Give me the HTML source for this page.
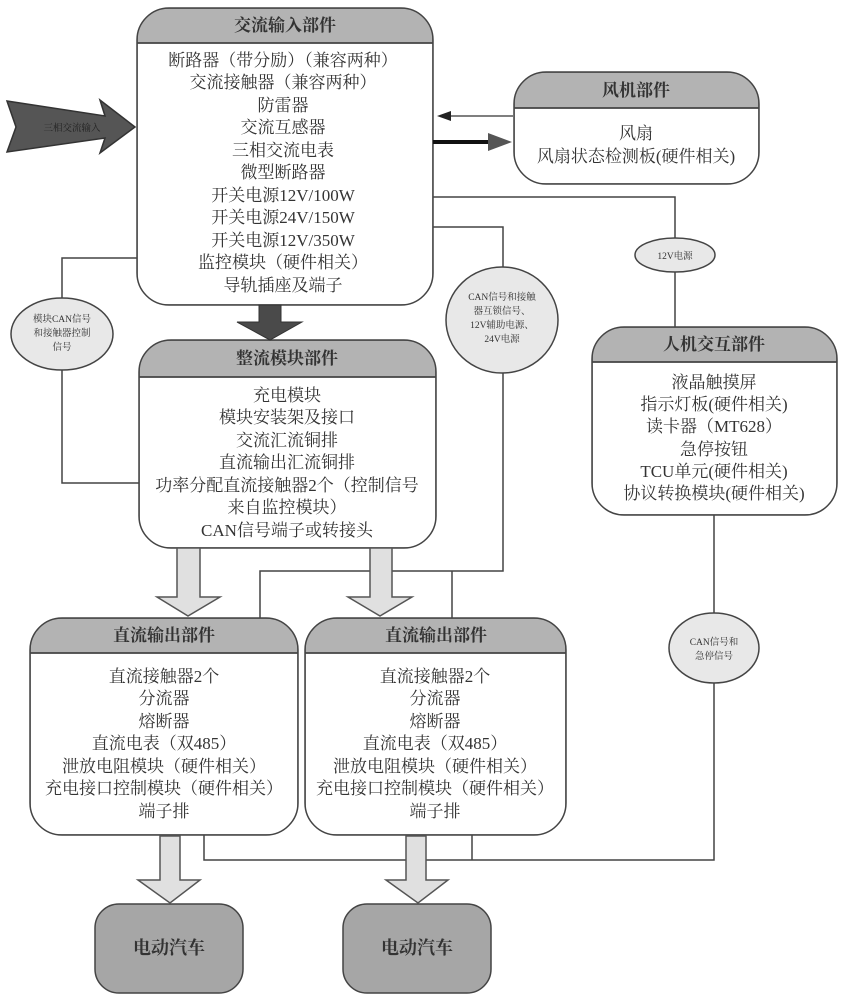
<!DOCTYPE html>
<html><head><meta charset="utf-8"><style>
html,body{margin:0;padding:0;background:#fff;}
svg{display:block;}
text{font-family:"Liberation Serif","Noto Serif CJK SC","Noto Sans CJK SC",serif;fill:#333;}
.h{font-family:"Liberation Sans","Noto Sans CJK SC",sans-serif;font-weight:bold;font-size:17px;fill:#222;}
.t{font-size:17px;}
.s{font-size:9.5px;fill:#555;}
</style></head><body>
<svg width="844" height="1000" viewBox="0 0 844 1000" xmlns="http://www.w3.org/2000/svg">
<defs>
<clipPath id="cAC"><rect x="137" y="8" width="296" height="297" rx="32"/></clipPath>
<clipPath id="cFan"><rect x="514" y="72" width="245" height="112" rx="32"/></clipPath>
<clipPath id="cRec"><rect x="139" y="340" width="297" height="208" rx="32"/></clipPath>
<clipPath id="cHMI"><rect x="592" y="327" width="245" height="188" rx="32"/></clipPath>
<clipPath id="cD1"><rect x="30" y="618" width="268" height="217" rx="32"/></clipPath>
<clipPath id="cD2"><rect x="305" y="618" width="261" height="217" rx="32"/></clipPath>
</defs>
<g fill="none" stroke="#444" stroke-width="1.5">
<polyline points="137,258 62,258 62,483 139,483"/>
<polyline points="433,197 675,197 675,327"/>
<polyline points="433,227 503,227 503,571 260,571 260,618"/>
<line x1="452" y1="571" x2="452" y2="618"/>
<polyline points="714,515 714,860 204,860 204,835"/>
<line x1="472" y1="860" x2="472" y2="835"/>
</g>
<g stroke="#444" stroke-width="1.5">
<g clip-path="url(#cAC)"><rect x="137" y="8" width="296" height="297" fill="#fff"/><rect x="137" y="8" width="296" height="35" fill="#b3b3b3"/></g>
<rect x="137" y="8" width="296" height="297" rx="32" fill="none"/><line x1="137" y1="43" x2="433" y2="43"/>
<g clip-path="url(#cFan)"><rect x="514" y="72" width="245" height="112" fill="#fff"/><rect x="514" y="72" width="245" height="36" fill="#b3b3b3"/></g>
<rect x="514" y="72" width="245" height="112" rx="32" fill="none"/><line x1="514" y1="108" x2="759" y2="108"/>
<g clip-path="url(#cRec)"><rect x="139" y="340" width="297" height="208" fill="#fff"/><rect x="139" y="340" width="297" height="37" fill="#b3b3b3"/></g>
<rect x="139" y="340" width="297" height="208" rx="32" fill="none"/><line x1="139" y1="377" x2="436" y2="377"/>
<g clip-path="url(#cHMI)"><rect x="592" y="327" width="245" height="188" fill="#fff"/><rect x="592" y="327" width="245" height="35" fill="#b3b3b3"/></g>
<rect x="592" y="327" width="245" height="188" rx="32" fill="none"/><line x1="592" y1="362" x2="837" y2="362"/>
<g clip-path="url(#cD1)"><rect x="30" y="618" width="268" height="217" fill="#fff"/><rect x="30" y="618" width="268" height="35" fill="#b3b3b3"/></g>
<rect x="30" y="618" width="268" height="217" rx="32" fill="none"/><line x1="30" y1="653" x2="298" y2="653"/>
<g clip-path="url(#cD2)"><rect x="305" y="618" width="261" height="217" fill="#fff"/><rect x="305" y="618" width="261" height="35" fill="#b3b3b3"/></g>
<rect x="305" y="618" width="261" height="217" rx="32" fill="none"/><line x1="305" y1="653" x2="566" y2="653"/>
<rect x="95" y="904" width="148" height="89" rx="24" fill="#a6a6a6"/>
<rect x="343" y="904" width="148" height="89" rx="24" fill="#a6a6a6"/>
<ellipse cx="62" cy="334" rx="51" ry="36" fill="#e8e8e8"/>
<ellipse cx="675" cy="255" rx="40" ry="17" fill="#e8e8e8"/>
<ellipse cx="502" cy="320" rx="56" ry="53" fill="#e8e8e8"/>
<ellipse cx="714" cy="648" rx="45" ry="35" fill="#e8e8e8"/>
</g>
<polygon points="7,101 105,116 100,100 135,127 100,153 105,138 7,152 16,127" fill="#555" stroke="#333" stroke-width="1.5"/>
<text x="72" y="131" class="s" text-anchor="middle" style="fill:#222">三相交流输入</text>
<polygon points="259,305 281,305 281,322 302,322 270,340 237,322 259,322" fill="#4a4a4a" stroke="#333" stroke-width="1"/>
<line x1="513" y1="116" x2="446" y2="116" stroke="#555" stroke-width="1.5"/>
<polygon points="437,116 451,111 451,121" fill="#222"/>
<line x1="433" y1="142" x2="490" y2="142" stroke="#111" stroke-width="4"/>
<polygon points="512,142 488,133 488,151" fill="#555"/>
<g fill="#e0e0e0" stroke="#555" stroke-width="1.5">
<polygon points="177,548 200,548 200,597 220,597 188,616 157,597 177,597"/>
<polygon points="370,548 392,548 392,597 412,597 380,616 348,597 370,597"/>
<polygon points="160,836 180,836 180,880 200,880 170,903 138,880 160,880"/>
<polygon points="406,836 426,836 426,880 448,880 418,903 386,880 406,880"/>
</g>
<g class="h" text-anchor="middle">
<text x="285" y="31">交流输入部件</text>
<text x="636" y="96">风机部件</text>
<text x="287" y="364">整流模块部件</text>
<text x="714" y="350">人机交互部件</text>
<text x="164" y="641">直流输出部件</text>
<text x="436" y="641">直流输出部件</text>
<text x="169" y="954" style="font-size:18px">电动汽车</text>
<text x="417" y="954" style="font-size:18px">电动汽车</text>
</g>
<g class="t" text-anchor="middle">
<text x="283" y="66">断路器（带分励）（兼容两种）</text>
<text x="283" y="88">交流接触器（兼容两种）</text>
<text x="283" y="111">防雷器</text>
<text x="283" y="133">交流互感器</text>
<text x="283" y="156">三相交流电表</text>
<text x="283" y="178">微型断路器</text>
<text x="283" y="201">开关电源12V/100W</text>
<text x="283" y="223">开关电源24V/150W</text>
<text x="283" y="246">开关电源12V/350W</text>
<text x="283" y="268">监控模块（硬件相关）</text>
<text x="283" y="291">导轨插座及端子</text>
<text x="636" y="139">风扇</text>
<text x="636" y="162">风扇状态检测板(硬件相关)</text>
<text x="287" y="401">充电模块</text>
<text x="287" y="423">模块安装架及接口</text>
<text x="287" y="446">交流汇流铜排</text>
<text x="287" y="468">直流输出汇流铜排</text>
<text x="287" y="491">功率分配直流接触器2个（控制信号</text>
<text x="287" y="513">来自监控模块）</text>
<text x="287" y="536">CAN信号端子或转接头</text>
<text x="714" y="388">液晶触摸屏</text>
<text x="714" y="410">指示灯板(硬件相关)</text>
<text x="714" y="432">读卡器（MT628）</text>
<text x="714" y="455">急停按钮</text>
<text x="714" y="477">TCU单元(硬件相关)</text>
<text x="714" y="499">协议转换模块(硬件相关)</text>
<text x="164" y="682">直流接触器2个</text>
<text x="164" y="704">分流器</text>
<text x="164" y="727">熔断器</text>
<text x="164" y="749">直流电表（双485）</text>
<text x="164" y="772">泄放电阻模块（硬件相关）</text>
<text x="164" y="794">充电接口控制模块（硬件相关）</text>
<text x="164" y="817">端子排</text>
<text x="435" y="682">直流接触器2个</text>
<text x="435" y="704">分流器</text>
<text x="435" y="727">熔断器</text>
<text x="435" y="749">直流电表（双485）</text>
<text x="435" y="772">泄放电阻模块（硬件相关）</text>
<text x="435" y="794">充电接口控制模块（硬件相关）</text>
<text x="435" y="817">端子排</text>
</g>
<g class="s" text-anchor="middle">
<text x="62" y="322">模块CAN信号</text>
<text x="62" y="336">和接触器控制</text>
<text x="62" y="350">信号</text>
<text x="675" y="259">12V电源</text>
<text x="502" y="300">CAN信号和接触</text>
<text x="502" y="314">器互锁信号、</text>
<text x="502" y="328">12V辅助电源、</text>
<text x="502" y="342">24V电源</text>
<text x="714" y="645">CAN信号和</text>
<text x="714" y="659">急停信号</text>
</g>
</svg>
</body></html>
